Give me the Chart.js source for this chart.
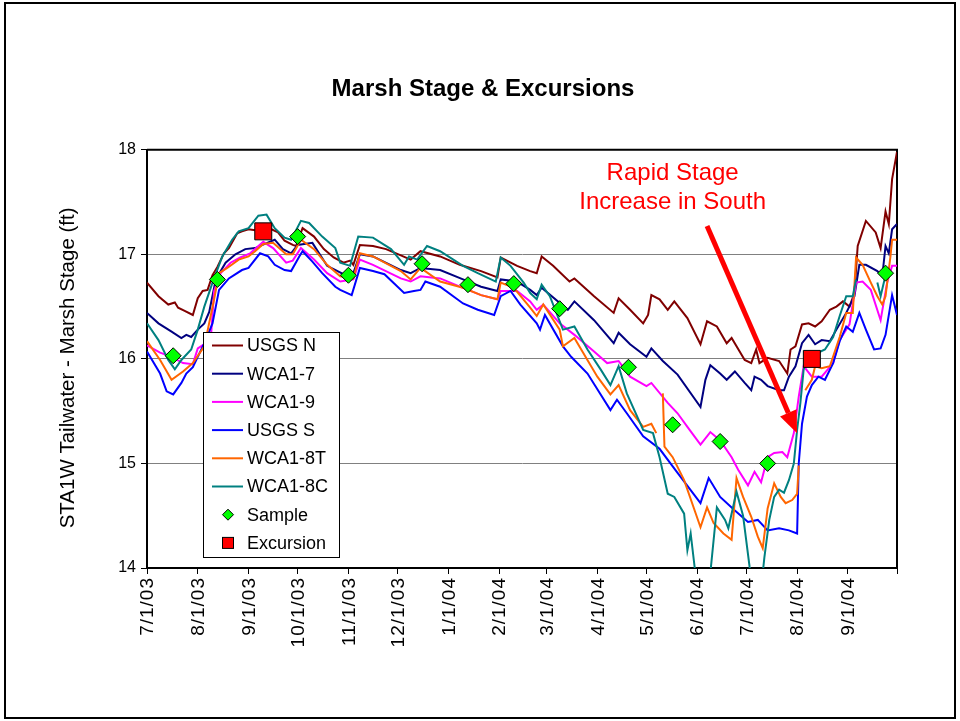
<!DOCTYPE html>
<html>
<head>
<meta charset="utf-8">
<title>Marsh Stage & Excursions</title>
<script src="https://cdn.jsdelivr.net/npm/chart.js@4/dist/chart.umd.min.js"></script>
<style>
  html, body { margin: 0; padding: 0; background: #fff; }
  #wrap { position: relative; width: 960px; height: 721px; }
  #frame { position: absolute; left: 4px; top: 2px; width: 948px; height: 713px; border: 2px solid #000; pointer-events: none; }
  canvas { display: block; }
</style>
</head>
<body>
<div id="wrap">
  <canvas id="chart" width="960" height="721"></canvas>
  <div id="frame"></div>
</div>
<script>
// all x values are days since 7/1/2003
const monthDays = [0, 31, 62, 92, 123, 153, 184, 215, 244, 275, 305, 336, 366, 397, 428, 458];
const monthLabels = ['7/1/03', '8/1/03', '9/1/03', '10/1/03', '11/1/03', '12/1/03', '1/1/04', '2/1/04',
  '3/1/04', '4/1/04', '5/1/04', '6/1/04', '7/1/04', '8/1/04', '9/1/04', ''];
const stageTicks = [14, 15, 16, 17, 18];

const usgsNDays = [0,7,13,17,19,23,28,31,34,37,40,43,47,50,55,58,62,66,71,76,80,84,89,91,95,102,108,114,120,124,126,130,138,146,155,161,167,179,191,204,214,216,226,234,238,241,248,258,261,273,285,288,295,303,306,308,313,318,322,330,338,342,348,354,357,365,369,372,374,379,386,391,393,396,400,404,408,412,417,421,425,429,432,434,439,445,448,451,453,455,458];
const usgsNStage = [16.73,16.60,16.52,16.54,16.49,16.46,16.42,16.58,16.65,16.66,16.80,16.88,17.01,17.06,17.20,17.22,17.24,17.23,17.25,17.24,17.21,17.13,17.09,17.08,17.25,17.17,17.05,16.97,16.92,16.94,16.90,17.09,17.08,17.05,16.99,16.95,17.03,16.98,16.90,16.84,16.78,16.97,16.89,16.84,16.82,16.98,16.89,16.74,16.77,16.60,16.44,16.58,16.47,16.34,16.42,16.61,16.57,16.47,16.55,16.39,16.14,16.36,16.31,16.15,16.20,15.99,15.96,16.09,15.96,16.01,15.98,15.86,16.09,16.12,16.33,16.34,16.31,16.36,16.47,16.50,16.55,16.50,16.63,17.08,17.32,17.21,17.06,17.41,17.29,17.72,17.98];

const wca17Days = [0,7,15,21,24,27,31,35,38,42,48,54,60,66,72,78,83,88,92,101,110,120,126,130,138,142,155,161,167,179,193,204,214,216,226,234,238,241,257,261,273,285,288,295,305,308,315,324,338,341,344,350,354,359,365,369,371,375,379,386,389,392,396,400,404,408,412,417,421,427,432,435,439,446,449,451,453,455,458];
const wca17Stage = [16.44,16.34,16.26,16.20,16.23,16.21,16.28,16.34,16.45,16.76,16.92,17.00,17.05,17.06,17.10,17.14,17.05,17.01,17.09,17.11,16.89,16.81,16.82,17.00,16.98,16.95,16.85,16.82,16.87,16.85,16.76,16.69,16.65,16.76,16.74,16.66,16.61,16.68,16.47,16.55,16.37,16.15,16.25,16.14,16.02,16.10,15.98,15.85,15.54,15.80,15.94,15.86,15.80,15.88,15.77,15.70,15.83,15.80,15.74,15.70,15.70,15.83,15.93,16.15,16.23,16.14,16.18,16.17,16.28,16.44,16.60,16.90,16.90,16.84,16.79,17.08,17.01,17.24,17.29];

const wca19Days = [0,8,15,22,28,31,36,39,41,45,51,57,63,71,77,85,89,94,102,110,118,126,130,138,155,161,167,179,193,204,214,216,226,234,238,242,252,261,273,281,288,295,305,308,318,324,330,338,344,350,357,361,367,371,375,379,383,388,391,395,398,401,406,412,419,423,429,433,437,442,448,452,455,458];
const wca19Stage = [16.13,16.06,16.02,15.96,15.95,16.10,16.15,16.20,16.65,16.82,16.92,16.97,17.01,17.12,17.06,16.92,16.94,17.06,16.95,16.82,16.74,16.76,16.95,16.90,16.77,16.74,16.79,16.77,16.68,16.61,16.57,16.65,16.65,16.55,16.47,16.52,16.34,16.23,16.07,15.96,15.98,15.83,15.74,15.77,15.58,15.48,15.35,15.18,15.30,15.22,15.06,14.94,14.79,14.92,14.82,15.06,15.10,15.11,15.06,15.29,15.64,15.93,15.83,15.83,15.96,16.18,16.33,16.73,16.74,16.66,16.37,16.73,16.89,16.89];

const usgsSDays = [0,8,12,16,21,24,28,31,35,40,44,50,58,62,69,74,78,84,88,93,95,101,107,115,118,125,130,138,145,157,163,167,170,179,193,202,212,216,222,228,238,240,243,254,259,269,283,287,293,303,313,324,338,343,350,359,367,373,379,386,392,397,398,400,403,406,410,414,419,423,427,431,435,439,444,448,451,455,458];
const usgsSStage = [16.07,15.86,15.69,15.66,15.77,15.86,15.92,16.02,16.15,16.34,16.66,16.77,16.85,16.87,17.01,16.98,16.90,16.85,16.84,16.98,17.03,16.93,16.82,16.69,16.66,16.61,16.87,16.84,16.81,16.63,16.65,16.66,16.74,16.69,16.53,16.47,16.42,16.60,16.65,16.52,16.34,16.28,16.42,16.12,16.02,15.86,15.51,15.61,15.48,15.26,15.14,14.91,14.62,14.86,14.68,14.55,14.44,14.46,14.36,14.38,14.36,14.33,15.00,15.38,15.64,15.75,15.83,15.80,15.96,16.17,16.31,16.26,16.44,16.28,16.09,16.10,16.23,16.61,16.42];

const wca18TDays = [0,8,15,22,28,35,41,44,49,56,62,66,71,77,85,89,94,102,110,118,126,130,138,155,161,167,179,193,204,214,216,224,234,238,242,252,254,261,275,283,288,295,303,308,311,313,315,316,321,328,338,342,346,352,357,360,364,369,373,376,379,383,387,390,394,397,398,400,402,406,408,412,417,423,427,431,433,437,442,446,449,451,454,455,458];
const wca18TStage = [16.17,15.99,15.80,15.88,15.96,16.12,16.57,16.82,16.87,16.95,16.98,17.03,17.10,17.11,17.00,17.00,17.14,17.05,16.90,16.79,16.77,17.01,16.98,16.84,16.76,16.87,16.74,16.68,16.61,16.57,16.73,16.68,16.49,16.41,16.52,16.28,16.12,16.20,15.83,15.66,15.75,15.51,15.35,15.38,15.29,null,15.67,15.16,15.06,14.84,14.39,14.58,14.43,14.33,14.27,14.86,14.68,14.49,14.30,14.19,14.57,14.81,14.68,14.62,14.65,14.71,14.98,null,15.70,15.80,15.93,15.91,15.93,16.21,16.44,16.44,16.97,16.90,16.73,16.60,16.52,16.60,16.98,17.14,17.14];

const wca18CDays = [0,7,13,17,21,27,31,35,40,46,52,56,62,68,73,78,84,88,94,99,107,115,118,124,129,138,149,157,160,165,171,179,193,202,213,216,222,230,234,238,241,246,254,261,269,277,283,288,293,303,309,313,318,322,328,330,332,336,340,344,348,353,355,360,364,368,371,375,377,380,383,386,389,392,395,397,399,401,403,406,410,414,419,423,427,431,433,436,446,448,451];
const wca18CStage = [16.34,16.18,15.99,15.90,15.99,16.09,16.28,16.50,16.73,16.98,17.14,17.22,17.25,17.37,17.38,17.25,17.16,17.14,17.32,17.30,17.17,17.06,16.92,16.89,17.17,17.16,17.05,16.90,16.98,16.95,17.08,17.03,16.89,16.82,16.74,16.97,16.89,16.73,16.63,16.57,16.71,16.60,16.28,16.31,16.09,15.90,15.75,15.93,15.67,15.32,15.29,15.06,14.71,14.68,14.52,14.17,14.33,13.80,13.60,13.95,14.58,14.46,14.38,14.73,14.50,14.01,13.80,13.80,14.10,14.46,14.68,14.75,14.72,14.84,15.00,15.32,15.58,15.90,16.00,15.96,16.06,16.09,16.21,16.41,16.60,16.60,16.76,null,16.73,16.60,16.80];

const sampleDays = [16, 43, 92, 123, 168, 196, 224, 252, 294, 321, 350, 379, 451];
const sampleStage = [16.03, 16.76, 17.17, 16.80, 16.91, 16.71, 16.72, 16.48, 15.92, 15.37, 15.21, 15.00, 16.82];
const excursionDays = [71, 406];
const excursionStage = [17.22, 16.00];

// callout text and arrow, in data units (day, stage)
const calloutLines = ['Rapid Stage', 'Increase in South'];
const calloutText = [[321, 17.77], [321, 17.50]];
const calloutArrow = [[342, 17.27], [397, 15.29]];

const yTitle = 'STA1W Tailwater - Marsh Stage (ft)';

const FONT = '"Liberation Sans", Arial, Helvetica, sans-serif';
Chart.defaults.font.family = FONT;
Chart.defaults.color = '#000';

const pts = (days, vals) => days.map((d, i) => ({ x: d, y: vals[i] }));

const lineSeries = [
  { label: 'USGS N', days: usgsNDays, vals: usgsNStage, color: '#800000' },
  { label: 'WCA1-7', days: wca17Days, vals: wca17Stage, color: '#000080' },
  { label: 'WCA1-9', days: wca19Days, vals: wca19Stage, color: '#FF00FF' },
  { label: 'USGS S', days: usgsSDays, vals: usgsSStage, color: '#0000FF' },
  { label: 'WCA1-8T', days: wca18TDays, vals: wca18TStage, color: '#FF6600' },
  { label: 'WCA1-8C', days: wca18CDays, vals: wca18CStage, color: '#008080' },
];

const datasets = lineSeries.map(s => ({
  type: 'line',
  label: s.label,
  data: pts(s.days, s.vals),
  borderColor: s.color,
  backgroundColor: s.color,
  borderWidth: 2,
  pointRadius: 0,
  tension: 0,
  spanGaps: false,
}));
datasets.push({
  type: 'scatter', label: 'Sample', data: pts(sampleDays, sampleStage),
  pointStyle: 'rectRot', pointRadius: 8, backgroundColor: '#00FF00', borderColor: '#000', borderWidth: 1,
});
datasets.push({
  type: 'scatter', label: 'Excursion', data: pts(excursionDays, excursionStage),
  pointStyle: 'rect', pointRadius: 12, backgroundColor: '#FF0000', borderColor: '#000', borderWidth: 1,
});
// later series sit on top, like the spreadsheet
datasets.forEach((d, i) => { d.order = datasets.length - i; });

// dark frame on top and right of the plot
const plotFrame = {
  id: 'plotFrame',
  beforeDatasetsDraw(chart) {
    const { ctx, chartArea: a } = chart;
    ctx.save();
    ctx.strokeStyle = '#000';
    ctx.lineWidth = 2;
    ctx.beginPath();
    ctx.moveTo(a.left, a.top);
    ctx.lineTo(a.right, a.top);
    ctx.lineTo(a.right, a.bottom);
    ctx.stroke();
    ctx.restore();
  }
};

// date labels (spaced out like the spreadsheet's) and the y title
const axisText = {
  id: 'axisText',
  afterDraw(chart) {
    const { ctx, chartArea: a, scales: { x } } = chart;
    ctx.save();
    ctx.fillStyle = '#000';
    ctx.font = '19px ' + FONT;
    ctx.letterSpacing = '1px';
    ctx.textAlign = 'right';
    ctx.textBaseline = 'middle';
    monthDays.forEach((d, i) => {
      if (!monthLabels[i]) return;
      ctx.save();
      ctx.translate(x.getPixelForValue(d) + 1, a.bottom + 9);
      ctx.rotate(-Math.PI / 2);
      ctx.fillText(monthLabels[i], 0, 0);
      ctx.restore();
    });
    ctx.letterSpacing = '0px';
    ctx.font = '20.5px ' + FONT;
    ctx.textAlign = 'center';
    ctx.translate(68, (a.top + a.bottom) / 2 + 9);
    ctx.rotate(-Math.PI / 2);
    ctx.fillText(yTitle, 0, 0);
    ctx.restore();
  }
};

const callout = {
  id: 'callout',
  afterDatasetsDraw(chart) {
    const { ctx, scales: { x, y } } = chart;
    ctx.save();
    ctx.fillStyle = '#FF0000';
    ctx.font = '24px ' + FONT;
    ctx.textAlign = 'center';
    ctx.textBaseline = 'middle';
    calloutLines.forEach((t, i) => {
      ctx.fillText(t, x.getPixelForValue(calloutText[i][0]), y.getPixelForValue(calloutText[i][1]));
    });
    const x1 = x.getPixelForValue(calloutArrow[0][0]), y1 = y.getPixelForValue(calloutArrow[0][1]);
    const x2 = x.getPixelForValue(calloutArrow[1][0]), y2 = y.getPixelForValue(calloutArrow[1][1]);
    const ang = Math.atan2(y2 - y1, x2 - x1);
    const head = 22, half = 9;
    const bx = x2 - head * Math.cos(ang), by = y2 - head * Math.sin(ang);
    ctx.strokeStyle = '#FF0000';
    ctx.lineWidth = 5;
    ctx.beginPath();
    ctx.moveTo(x1, y1);
    ctx.lineTo(bx, by);
    ctx.stroke();
    ctx.beginPath();
    ctx.moveTo(x2, y2);
    ctx.lineTo(bx + half * Math.sin(ang), by - half * Math.cos(ang));
    ctx.lineTo(bx - half * Math.sin(ang), by + half * Math.cos(ang));
    ctx.closePath();
    ctx.fill();
    ctx.restore();
  }
};

// boxed legend inside the plot, lower left
const boxLegend = {
  id: 'boxLegend',
  afterDatasetsDraw(chart) {
    const { ctx, chartArea: a } = chart;
    const x0 = Math.round(a.left + 56), y0 = Math.round(a.top + 182), w = 136, h = 225;
    ctx.save();
    ctx.fillStyle = '#fff';
    ctx.fillRect(x0, y0, w, h);
    ctx.strokeStyle = '#000';
    ctx.lineWidth = 1;
    ctx.strokeRect(x0 + 0.5, y0 + 0.5, w, h);
    ctx.font = '18px ' + FONT;
    ctx.textBaseline = 'middle';
    ctx.textAlign = 'left';
    chart.data.datasets.forEach((ds, i) => {
      const cy = y0 + 13.5 + i * 28.2;
      const mx = x0 + 25;
      if (ds.type === 'line') {
        ctx.strokeStyle = ds.borderColor;
        ctx.lineWidth = 2;
        ctx.beginPath();
        ctx.moveTo(x0 + 9, cy);
        ctx.lineTo(x0 + 40, cy);
        ctx.stroke();
      } else if (ds.pointStyle === 'rectRot') {
        ctx.fillStyle = ds.backgroundColor;
        ctx.strokeStyle = '#000';
        ctx.lineWidth = 1;
        ctx.beginPath();
        ctx.moveTo(mx - 5.5, cy);
        ctx.lineTo(mx, cy - 5.5);
        ctx.lineTo(mx + 5.5, cy);
        ctx.lineTo(mx, cy + 5.5);
        ctx.closePath();
        ctx.fill();
        ctx.stroke();
      } else {
        ctx.fillStyle = ds.backgroundColor;
        ctx.strokeStyle = '#000';
        ctx.lineWidth = 1;
        ctx.fillRect(mx - 5.5, cy - 5.5, 11, 11);
        ctx.strokeRect(mx - 5.5, cy - 5.5, 11, 11);
      }
      ctx.fillStyle = '#000';
      ctx.fillText(ds.label, x0 + 44, cy + 1);
    });
    ctx.restore();
  }
};

new Chart(document.getElementById('chart'), {
  data: { datasets },
  options: {
    responsive: false,
    animation: false,
    events: [],
    layout: { padding: { left: 6, right: 0, top: 0, bottom: 0 } },
    plugins: {
      legend: { display: false },
      tooltip: { enabled: false },
      title: {
        display: true,
        text: 'Marsh Stage & Excursions',
        font: { size: 24, weight: 'bold' },
        color: '#000',
        padding: { top: 75, bottom: 46 },
      },
    },
    scales: {
      x: {
        type: 'linear',
        min: monthDays[0],
        max: monthDays[monthDays.length - 1],
        afterBuildTicks: s => { s.ticks = monthDays.map(v => ({ value: v })); },
        afterFit: s => { s.height = 153; },
        ticks: { display: false },
        grid: { drawOnChartArea: false, drawTicks: true, tickLength: 6, tickColor: '#000', tickWidth: 1 },
        border: { color: '#000', width: 2 },
      },
      y: {
        type: 'linear',
        min: stageTicks[0],
        max: stageTicks[stageTicks.length - 1],
        afterBuildTicks: s => { s.ticks = stageTicks.map(v => ({ value: v })); },
        afterFit: s => { s.width = 141; },
        ticks: { padding: 5, font: { size: 16 }, color: '#000' },
        grid: {
          color: c => (c.tick && c.tick.value === 18 ? '#000' : '#808080'),
          lineWidth: 1,
          tickLength: 6,
          tickColor: '#000',
        },
        border: { color: '#000', width: 2 },
      },
      // empty right-hand gutter so the title centres on the whole page
      gutter: {
        type: 'linear',
        position: 'right',
        afterFit: s => { s.width = 63; },
        ticks: { display: false },
        grid: { display: false },
        border: { display: false },
      },
    },
  },
  plugins: [plotFrame, callout, boxLegend, axisText],
});
</script>
</body>
</html>
